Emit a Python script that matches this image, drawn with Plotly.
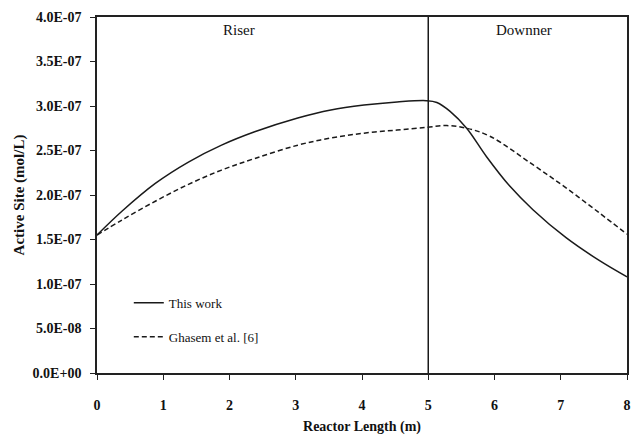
import plotly.graph_objects as go

# Data
x_this = [0, 0.38, 0.88, 1.38, 1.88, 2.38, 3.03, 3.53, 4.03, 4.53, 4.97, 5.13, 5.33, 5.58, 5.88, 6.23, 6.58, 7.08, 7.58, 8.0]
y_this = [1.55e-7, 1.82e-7, 2.13e-7, 2.37e-7, 2.56e-7, 2.71e-7, 2.865e-7, 2.955e-7, 3.01e-7, 3.045e-7,
          3.06e-7, 3.04e-7, 2.94e-7, 2.75e-7, 2.43e-7, 2.10e-7, 1.835e-7, 1.52e-7, 1.265e-7, 1.08e-7]

x_ghasem = [0, 0.38, 0.88, 1.38, 1.88, 2.38, 3.03, 3.53, 4.03, 4.53, 4.97, 5.28, 5.58, 5.93, 6.58, 7.08, 7.58, 8.0]
y_ghasem = [1.55e-7, 1.72e-7, 1.93e-7, 2.12e-7, 2.28e-7, 2.41e-7, 2.56e-7, 2.64e-7, 2.695e-7, 2.73e-7,
            2.76e-7, 2.78e-7, 2.75e-7, 2.66e-7, 2.34e-7, 2.08e-7, 1.80e-7, 1.56e-7]

y_tickvals = [0, 0.5e-7, 1.0e-7, 1.5e-7, 2.0e-7, 2.5e-7, 3.0e-7, 3.5e-7, 4.0e-7]
y_ticktext = ["0.0E+00", "5.0E-08", "1.0E-07", "1.5E-07", "2.0E-07", "2.5E-07", "3.0E-07", "3.5E-07", "4.0E-07"]
x_tickvals = [0, 1, 2, 3, 4, 5, 6, 7, 8]

divider_x = 5
section_labels = [("Riser", 2.15), ("Downner", 6.45)]

SERIF = "Liberation Serif, Times New Roman, serif"

fig = go.Figure()
fig.add_trace(go.Scatter(x=x_this, y=y_this, mode="lines", name="This work",
                         line=dict(color="#1a1a1a", width=1.5, shape="spline", smoothing=1.0),
                         legendgroup="a"))
fig.add_trace(go.Scatter(x=x_ghasem, y=y_ghasem, mode="lines", name="Ghasem et al. [6]",
                         line=dict(color="#1a1a1a", width=1.5, dash="5px,3px", shape="spline", smoothing=1.0),
                         legendgroup="b"))

fig.add_shape(type="line", x0=divider_x, x1=divider_x, y0=0, y1=4e-7, xref="x", yref="y",
              line=dict(color="#1a1a1a", width=1.5))

for txt, xv in section_labels:
    fig.add_annotation(x=xv, y=3.85e-7, text=txt, showarrow=False, xref="x", yref="y",
                       font=dict(family=SERIF, size=15, color="#111"))

fig.update_layout(
    width=634, height=435,
    margin=dict(l=97, r=3, t=17, b=62),
    paper_bgcolor="white", plot_bgcolor="white",
    font=dict(family=SERIF, color="#111"),
    showlegend=True,
    legend=dict(x=0.06, y=0.239, xanchor="left", yanchor="top",
                bgcolor="rgba(0,0,0,0)", font=dict(family=SERIF, size=13, color="#111"),
                tracegroupgap=14, itemwidth=30),
)
fig.update_xaxes(range=[0, 8], tickvals=x_tickvals, ticks="outside", ticklen=5, tickcolor="#222",
                 showline=True, linecolor="#222", linewidth=1.5, mirror=True, showgrid=False, zeroline=False,
                 ticklabelstandoff=13,
                 tickfont=dict(family=SERIF, size=14, color="#111", weight="bold"),
                 title=dict(text="<b>Reactor Length (m)</b>", font=dict(family=SERIF, size=14, color="#111"), standoff=10))
fig.update_yaxes(range=[0, 4e-7], tickvals=y_tickvals, ticktext=y_ticktext, ticks="outside", ticklen=5,
                 tickcolor="#222", showline=True, linecolor="#222", linewidth=1.5, mirror=True,
                 showgrid=False, zeroline=False, ticklabelstandoff=6,
                 tickfont=dict(family=SERIF, size=14, color="#111", weight="bold"),
                 title=dict(text="<b>Active Site (mol/L)</b>", font=dict(family=SERIF, size=15, color="#111"), standoff=4))

fig.write_html("out.html")
